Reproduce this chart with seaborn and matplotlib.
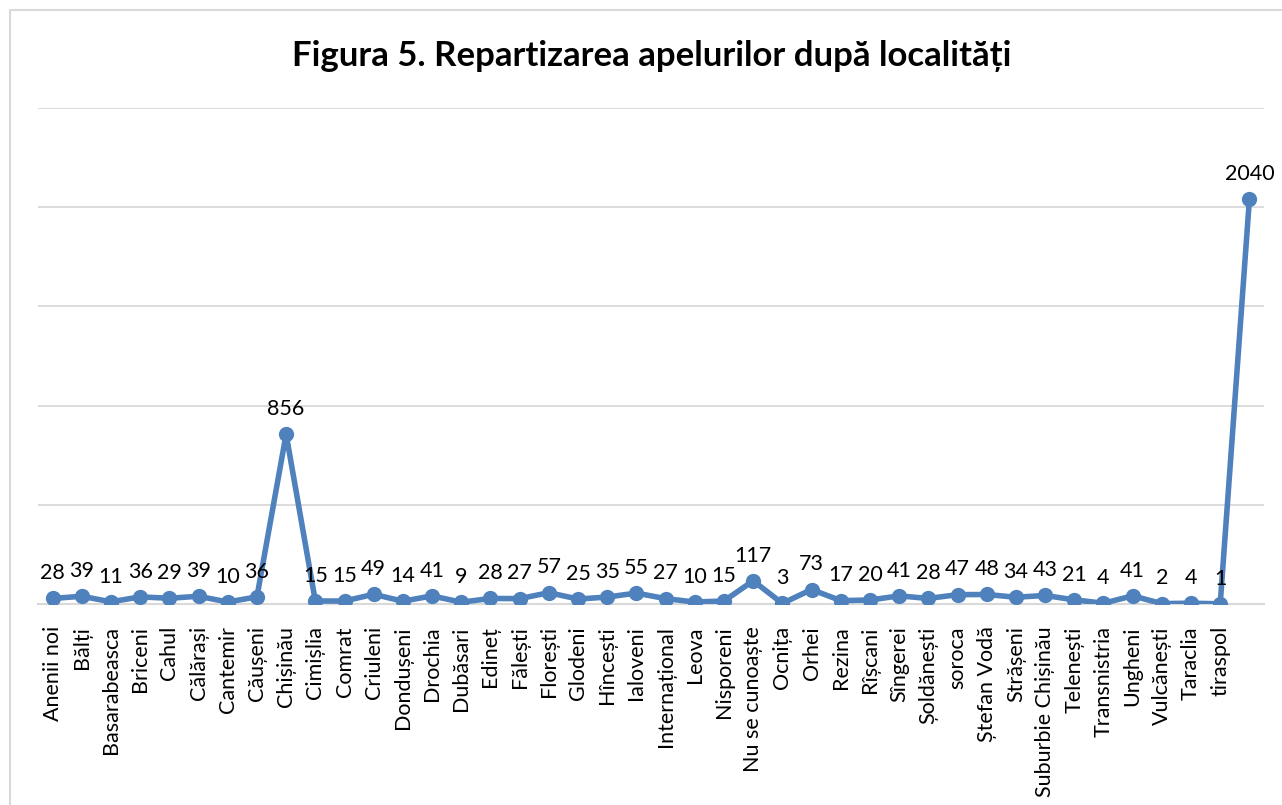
import matplotlib
matplotlib.use("Agg")
import matplotlib.pyplot as plt
import seaborn as sns
import pandas as pd
from matplotlib.patches import Rectangle

localitati = [
    "Anenii noi", "Bălți", "Basarabeasca", "Briceni", "Cahul", "Călărași",
    "Cantemir", "Căușeni", "Chișinău", "Cimișlia", "Comrat", "Criuleni",
    "Dondușeni", "Drochia", "Dubăsari", "Edineț", "Fălești", "Florești",
    "Glodeni", "Hîncești", "Ialoveni", "Internațional", "Leova", "Nisporeni",
    "Nu se cunoaște", "Ocnița", "Orhei", "Rezina", "Rîșcani", "Sîngerei",
    "Șoldănești", "soroca", "Ștefan Vodă", "Strășeni", "Suburbie Chișinău",
    "Telenești", "Transnistria", "Ungheni", "Vulcănești", "Taraclia",
    "tiraspol", "",
]
apeluri = [
    28, 39, 11, 36, 29, 39, 10, 36, 856, 15, 15, 49, 14, 41, 9, 28, 27, 57,
    25, 35, 55, 27, 10, 15, 117, 3, 73, 17, 20, 41, 28, 47, 48, 34, 43, 21,
    4, 41, 2, 4, 1, 2040,
]
y_ticks = [0, 500, 1000, 1500, 2000, 2500]

df = pd.DataFrame({"poz": range(len(localitati)), "apeluri": apeluri})

sns.set_theme(style="white")
plt.rcParams["font.family"] = ["Lato", "DejaVu Sans"]

fig = plt.figure(figsize=(12.82, 8.05), dpi=100)
W, H = 1282, 805
ax = fig.add_axes([38 / W, (H - 604) / H, (1264 - 38) / W, (604 - 108) / H])

# chart frame
fig.patches.append(Rectangle((10 / W, -0.1), 1.2, (H - 10) / H + 0.1,
                             transform=fig.transFigure, fill=False,
                             edgecolor="#D9D9D9", linewidth=1.5))

line_color = "#4F81BD"
sns.lineplot(data=df, x="poz", y="apeluri", ax=ax, color=line_color,
             linewidth=4, marker="o", markersize=11, markeredgewidth=0,
             zorder=3)

for i, v in enumerate(apeluri):
    ax.annotate(str(v), (i, v), xytext=(0, 11), textcoords="offset points",
                ha="center", va="bottom", fontsize=15.5, color="#000000",
                zorder=4)

ax.set_xlim(-0.5, len(localitati) - 0.5)
ax.set_ylim(y_ticks[0], y_ticks[-1])
ax.set_yticks(y_ticks)
ax.yaxis.grid(True, color="#D9D9D9", linewidth=1.3)
ax.tick_params(axis="y", left=False, labelleft=False)
ax.set_xticks(range(len(localitati)))
ax.set_xticklabels(localitati, rotation=90, fontsize=15.5, color="#000000")
ax.tick_params(axis="x", bottom=False, pad=10)
for side in ("top", "right", "left"):
    ax.spines[side].set_visible(False)
ax.spines["bottom"].set_color("#D9D9D9")
ax.spines["bottom"].set_linewidth(1.5)
ax.set_xlabel("")
ax.set_ylabel("")

fig.text(652 / W, 1 - 56 / H, "Figura 5. Repartizarea apelurilor după localități",
         ha="center", va="center", fontsize=25, fontweight="bold",
         color="#000000")

fig.savefig("out.png", dpi=100, facecolor="white")
